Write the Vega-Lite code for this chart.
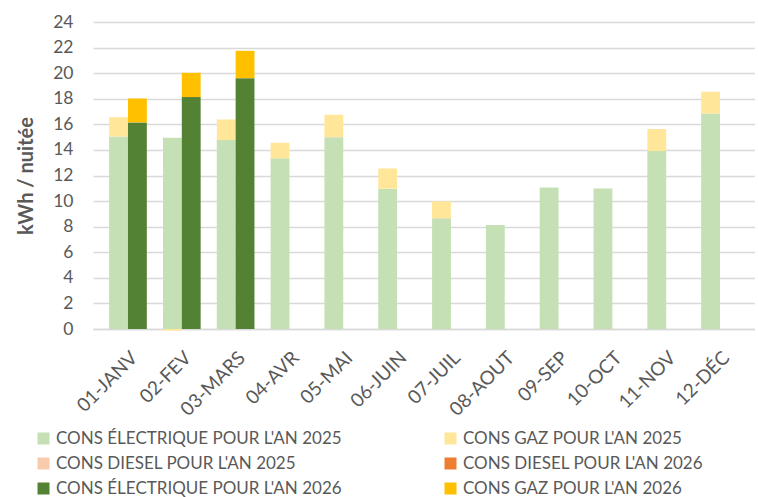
{
  "$schema": "https://vega.github.io/schema/vega-lite/v6.json",
  "width": 662,
  "height": 307,
  "padding": {"left": 16, "top": 13, "right": 0, "bottom": 0},
  "background": "white",
  "config": {
    "view": {"stroke": null},
    "font": "Lato",
    "axis": {"labelFont": "Lato", "titleFont": "Lato", "labelColor": "#595959", "titleColor": "#595959"}
  },
  "data": {
    "values": [
      {"mois": "01-JANV", "annee": "2025", "serie": "CONS ÉLECTRIQUE POUR L'AN 2025", "ordre": 1, "valeur": 15.05},
      {"mois": "01-JANV", "annee": "2025", "serie": "CONS GAZ POUR L'AN 2025", "ordre": 2, "valeur": 1.5},
      {"mois": "01-JANV", "annee": "2026", "serie": "CONS ÉLECTRIQUE POUR L'AN 2026", "ordre": 1, "valeur": 16.15},
      {"mois": "01-JANV", "annee": "2026", "serie": "CONS GAZ POUR L'AN 2026", "ordre": 2, "valeur": 1.87},
      {"mois": "02-FEV", "annee": "2025", "serie": "CONS ÉLECTRIQUE POUR L'AN 2025", "ordre": 1, "valeur": 14.95},
      {"mois": "02-FEV", "annee": "2025", "serie": "CONS GAZ POUR L'AN 2025", "ordre": 2, "valeur": -0.12},
      {"mois": "02-FEV", "annee": "2026", "serie": "CONS ÉLECTRIQUE POUR L'AN 2026", "ordre": 1, "valeur": 18.13},
      {"mois": "02-FEV", "annee": "2026", "serie": "CONS GAZ POUR L'AN 2026", "ordre": 2, "valeur": 1.9},
      {"mois": "03-MARS", "annee": "2025", "serie": "CONS ÉLECTRIQUE POUR L'AN 2025", "ordre": 1, "valeur": 14.77},
      {"mois": "03-MARS", "annee": "2025", "serie": "CONS GAZ POUR L'AN 2025", "ordre": 2, "valeur": 1.61},
      {"mois": "03-MARS", "annee": "2026", "serie": "CONS ÉLECTRIQUE POUR L'AN 2026", "ordre": 1, "valeur": 19.61},
      {"mois": "03-MARS", "annee": "2026", "serie": "CONS GAZ POUR L'AN 2026", "ordre": 2, "valeur": 2.14},
      {"mois": "04-AVR", "annee": "2025", "serie": "CONS ÉLECTRIQUE POUR L'AN 2025", "ordre": 1, "valeur": 13.34},
      {"mois": "04-AVR", "annee": "2025", "serie": "CONS GAZ POUR L'AN 2025", "ordre": 2, "valeur": 1.22},
      {"mois": "05-MAI", "annee": "2025", "serie": "CONS ÉLECTRIQUE POUR L'AN 2025", "ordre": 1, "valeur": 15.0},
      {"mois": "05-MAI", "annee": "2025", "serie": "CONS GAZ POUR L'AN 2025", "ordre": 2, "valeur": 1.75},
      {"mois": "06-JUIN", "annee": "2025", "serie": "CONS ÉLECTRIQUE POUR L'AN 2025", "ordre": 1, "valeur": 10.97},
      {"mois": "06-JUIN", "annee": "2025", "serie": "CONS GAZ POUR L'AN 2025", "ordre": 2, "valeur": 1.58},
      {"mois": "07-JUIL", "annee": "2025", "serie": "CONS ÉLECTRIQUE POUR L'AN 2025", "ordre": 1, "valeur": 8.65},
      {"mois": "07-JUIL", "annee": "2025", "serie": "CONS GAZ POUR L'AN 2025", "ordre": 2, "valeur": 1.33},
      {"mois": "08-AOUT", "annee": "2025", "serie": "CONS ÉLECTRIQUE POUR L'AN 2025", "ordre": 1, "valeur": 8.13},
      {"mois": "09-SEP", "annee": "2025", "serie": "CONS ÉLECTRIQUE POUR L'AN 2025", "ordre": 1, "valeur": 11.07},
      {"mois": "10-OCT", "annee": "2025", "serie": "CONS ÉLECTRIQUE POUR L'AN 2025", "ordre": 1, "valeur": 10.99},
      {"mois": "11-NOV", "annee": "2025", "serie": "CONS ÉLECTRIQUE POUR L'AN 2025", "ordre": 1, "valeur": 13.91},
      {"mois": "11-NOV", "annee": "2025", "serie": "CONS GAZ POUR L'AN 2025", "ordre": 2, "valeur": 1.72},
      {"mois": "12-DÉC", "annee": "2025", "serie": "CONS ÉLECTRIQUE POUR L'AN 2025", "ordre": 1, "valeur": 16.85},
      {"mois": "12-DÉC", "annee": "2025", "serie": "CONS GAZ POUR L'AN 2025", "ordre": 2, "valeur": 1.7}
    ]
  },
  "mark": {"type": "bar"},
  "encoding": {
    "x": {
      "field": "mois", "type": "nominal", "sort": null,
      "scale": {"paddingInner": 0.3, "paddingOuter": 0.3},
      "axis": {
        "title": null, "labelAngle": -45, "labelFontSize": 19, "labelPadding": 19,
        "ticks": false, "domainColor": "#D9D9D9", "domainWidth": 1.5
      }
    },
    "xOffset": {"field": "annee", "type": "nominal", "scale": {"domain": ["2025", "2026"], "paddingInner": 0}},
    "y": {
      "field": "valeur", "type": "quantitative", "stack": "zero",
      "scale": {"domain": [0, 24], "nice": false},
      "axis": {
        "title": "kWh / nuitée", "titleFontSize": 20, "titleFontWeight": "bold", "titlePadding": 16,
        "values": [0, 2, 4, 6, 8, 10, 12, 14, 16, 18, 20, 22, 24],
        "labelFontSize": 17.5, "labelPadding": 20, "ticks": false, "domain": false,
        "gridColor": "#D9D9D9", "gridWidth": 1.5
      }
    },
    "order": {"field": "ordre", "type": "quantitative"},
    "color": {
      "field": "serie", "type": "nominal",
      "scale": {
        "domain": [
          "CONS ÉLECTRIQUE POUR L'AN 2025", "CONS DIESEL POUR L'AN 2025",
          "CONS ÉLECTRIQUE POUR L'AN 2026", "CONS GAZ POUR L'AN 2025",
          "CONS DIESEL POUR L'AN 2026", "CONS GAZ POUR L'AN 2026"
        ],
        "range": ["#C5E0B4", "#F8CBAD", "#548235", "#FFE699", "#ED7D31", "#FFC000"]
      },
      "legend": {
        "title": null, "orient": "none", "legendX": -58, "legendY": 408, "columns": 2,
        "columnPadding": 100, "rowPadding": 7, "symbolType": "square", "symbolSize": 144,
        "symbolStrokeWidth": 0, "labelFontSize": 17, "labelColor": "#595959", "labelFont": "Lato",
        "labelLimit": 400, "clipHeight": 17, "labelOffset": 4, "gridAlign": "each", "symbolOffset": 0
      }
    }
  }
}
